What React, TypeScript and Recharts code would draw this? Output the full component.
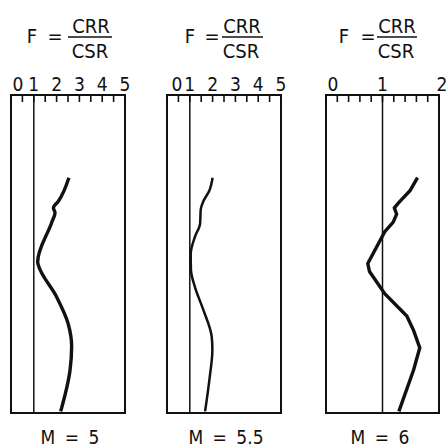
import { LineChart, Line, XAxis, YAxis, ReferenceLine, ReferenceArea } from 'recharts';

// depth down the column (0 at top, 20 at bottom) and factor of safety F
const depthM5 = [5.2, 6.7, 7.1, 7.4, 8.0, 10.5, 10.7, 12.7, 14.4, 15.8, 17.3, 19.9];
const fM5 = [2.54, 2.07, 1.86, 1.93, 1.79, 1.17, 1.2, 2.0, 2.51, 2.66, 2.59, 2.18];

const depthM55 = [5.2, 6.0, 6.7, 7.2, 8.1, 8.9, 10.0, 11.0, 12.1, 13.5, 15.2, 16.0, 17.9, 19.9];
const fM55 = [2.0, 1.86, 1.59, 1.48, 1.45, 1.23, 1.04, 1.05, 1.23, 1.59, 1.96, 1.99, 1.86, 1.67];

const depthM6 = [5.2, 6.0, 6.8, 7.1, 7.5, 8.0, 8.6, 10.6, 11.1, 12.5, 13.9, 14.8, 15.9, 17.3, 19.9];
const fM6 = [1.62, 1.49, 1.28, 1.21, 1.25, 1.19, 1.04, 0.74, 0.77, 1.04, 1.43, 1.55, 1.66, 1.55, 1.29];

const ticksWide = [0, 0.5, 1, 1.5, 2, 2.5, 3, 3.5, 4, 4.5, 5];
const ticksNarrow = [0, 0.2, 0.4, 0.6, 0.8, 1, 1.2, 1.4, 1.6, 1.8, 2];

const magnitudes = ['M = 5', 'M = 5.5', 'M = 6'];

const TOP = 95;
const BOTTOM = 413;
const FONT = '"DejaVu Sans Condensed", "Liberation Sans Narrow", sans-serif';
const INK = '#111';

const rows = (depth: number[], f: number[]) => depth.map((d, i) => ({ depth: d, f: f[i] }));

const panels = [
  { left: 11, right: 125, max: 5, ticks: ticksWide, data: rows(depthM5, fM5), curve: 'monotone', lw: 3.4, zeroShift: 7, head: { f: 32, eq: 55, bar: [68, 112], frac: 91 }, label: 70 },
  { left: 167, right: 281, max: 5, ticks: ticksWide, data: rows(depthM55, fM55), curve: 'monotone', lw: 2.5, zeroShift: 10, head: { f: 190, eq: 212, bar: [222, 263], frac: 242 }, label: 226 },
  { left: 326, right: 439, max: 2, ticks: ticksNarrow, data: rows(depthM6, fM6), curve: 'linear', lw: 3.4, zeroShift: 7, head: { f: 344, eq: 368, bar: [377, 417], frac: 397 }, label: 380 },
] as const;

function renderTick(props: any, zeroShift: number, max: number) {
  const { x, y, payload } = props;
  const v = payload.value as number;
  const labelled = Number.isInteger(v);
  let dx = 0;
  if (v === 0) dx = zeroShift;
  if (v === max && max === 2) dx = 3;
  return (
    <g>
      <line x1={x} x2={x} y1={y} y2={y + 7} stroke={INK} strokeWidth={1.6} />
      {labelled && (
        <text x={x + dx} y={y - 4} textAnchor="middle" fontFamily={FONT} fontSize={19} fill={INK}>
          {v}
        </text>
      )}
    </g>
  );
}

function Panel({ p }: { p: (typeof panels)[number] }) {
  return (
    <div style={{ position: 'absolute', left: 0, top: 0 }}>
      <LineChart
        width={447}
        height={447}
        layout="vertical"
        data={p.data as any}
        margin={{ top: TOP - 1, bottom: 447 - BOTTOM, left: p.left, right: 447 - p.right }}
      >
        <XAxis
          type="number"
          orientation="top"
          domain={[0, p.max]}
          ticks={p.ticks as any}
          interval={0}
          height={1}
          tickSize={0}
          tickMargin={0}
          tickLine={false}
          axisLine={{ stroke: INK, strokeWidth: 2 }}
          tick={(props: any) => renderTick(props, p.zeroShift, p.max)}
        />
        <YAxis type="number" dataKey="depth" domain={[0, 20]} hide />
        <ReferenceArea x1={0} x2={p.max} y1={0} y2={20} fill="none" stroke={INK} strokeWidth={2} />
        <ReferenceLine x={1} stroke={INK} strokeWidth={1.5} />
        <Line
          dataKey="f"
          type={p.curve as any}
          stroke={INK}
          strokeWidth={p.lw}
          dot={false}
          isAnimationActive={false}
        />
      </LineChart>
    </div>
  );
}

export default function App() {
  return (
    <div style={{ position: 'absolute', left: 0, top: 0, width: 447, height: 447, background: '#fff', overflow: 'hidden' }}>
      {panels.map((p, i) => (
        <Panel key={i} p={p} />
      ))}
      <svg width={447} height={447} style={{ position: 'absolute', left: 0, top: 0, pointerEvents: 'none' }}>
        {panels.map((p, i) => (
          <g key={i} fontFamily={FONT} fill={INK}>
            <text x={p.head.f} y={43} fontSize={20} textAnchor="middle">F</text>
            <text x={p.head.eq} y={43} fontSize={20} textAnchor="middle">=</text>
            <text x={p.head.frac} y={33} fontSize={20} textAnchor="middle">CRR</text>
            <line x1={p.head.bar[0]} x2={p.head.bar[1]} y1={37} y2={37} stroke={INK} strokeWidth={1.6} />
            <text x={p.head.frac - 1} y={58} fontSize={20} textAnchor="middle">CSR</text>
            <text x={p.label} y={444} fontSize={19} textAnchor="middle" wordSpacing={4}>
              {magnitudes[i]}
            </text>
          </g>
        ))}
      </svg>
    </div>
  );
}
